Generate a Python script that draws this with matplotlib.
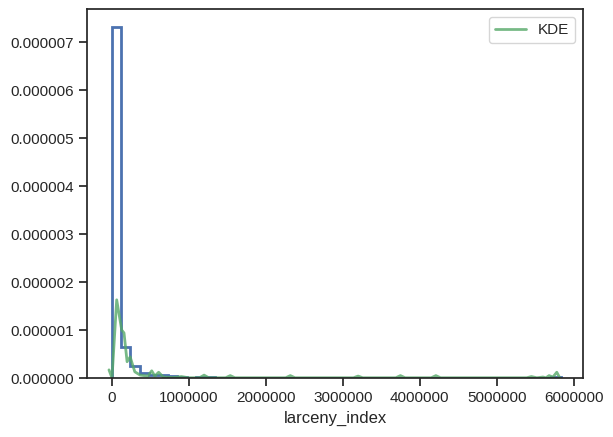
import matplotlib
matplotlib.use("Agg")
import matplotlib.pyplot as plt
import matplotlib.ticker as mticker
import seaborn as sns
import numpy as np

# histogram (density) per bin, bin width ~121500, starting at 0
bin_width = 121500
hist_density = [7.31, 0.65, 0.24, 0.10, 0.06, 0.06, 0.04, 0.02, 0.0, 0.02,
                0.02, 0.0, 0.01, 0.0, 0.0, 0.0, 0.0, 0.0, 0.0, 0.01,
                0.0, 0.0, 0.0, 0.0, 0.0, 0.0, 0.01, 0.0, 0.0, 0.0,
                0.01, 0.0, 0.0, 0.0, 0.01, 0.0, 0.0, 0.0, 0.0, 0.0,
                0.0, 0.0, 0.0, 0.0, 0.01, 0.0, 0.01, 0.02]

# KDE curve (x in units, y in 1e-6)
kde_x = [-0.035, 0.004, 0.065, 0.13, 0.16, 0.20, 0.24, 0.30, 0.37, 0.47,
         0.52, 0.56, 0.61, 0.67, 0.80, 0.905, 1.0, 1.14, 1.2, 1.26,
         1.48, 1.54, 1.60, 2.0, 2.26, 2.32, 2.38, 2.9, 3.14, 3.2,
         3.26, 3.69, 3.75, 3.81, 4.15, 4.21, 4.27, 5.0, 5.39, 5.45,
         5.52, 5.6, 5.64, 5.68, 5.73, 5.78, 5.82]
kde_y = [0.17, 0.0, 1.63, 1.0, 0.94, 0.34, 0.44, 0.13, 0.06, 0.04,
         0.15, 0.04, 0.12, 0.02, 0.01, 0.03, 0.005, 0.005, 0.06, 0.005,
         0.005, 0.05, 0.005, 0.005, 0.005, 0.05, 0.005, 0.005, 0.005, 0.04,
         0.005, 0.005, 0.05, 0.005, 0.005, 0.05, 0.005, 0.005, 0.005, 0.03,
         0.005, 0.02, 0.005, 0.05, 0.02, 0.12, 0.0]

sns.set_theme(style="ticks")
plt.rcParams['font.family'] = ['Liberation Sans', 'DejaVu Sans']

fig = plt.figure(figsize=(6.13, 4.37), dpi=100)
ax = fig.add_axes([0.142, 0.135, 0.809, 0.844])

edges = np.arange(len(hist_density) + 1) * bin_width
centers = (edges[:-1] + edges[1:]) / 2
ax.hist(centers, bins=edges, weights=np.array(hist_density) * 1e-6,
        histtype="step", color="#4c72b0", linewidth=2)

ax.plot(np.array(kde_x) * 1e6, np.array(kde_y) * 1e-6, color="#55a868",
        alpha=0.8, linewidth=2, label="KDE")

ax.set_xlim(-320000, 6120000)
ax.set_ylim(0, 7.69e-6)
ax.set_xticks(np.arange(0, 6000001, 1000000))
ax.set_yticks(np.arange(0, 7.01e-6, 1e-6))
xfmt = mticker.ScalarFormatter(useOffset=False)
xfmt.set_scientific(False)
ax.xaxis.set_major_formatter(xfmt)
ax.yaxis.set_major_formatter(mticker.FormatStrFormatter('%.6f'))
ax.set_xlabel("larceny_index")
ax.legend(loc="upper right")

fig.savefig("out.png", dpi=100)
